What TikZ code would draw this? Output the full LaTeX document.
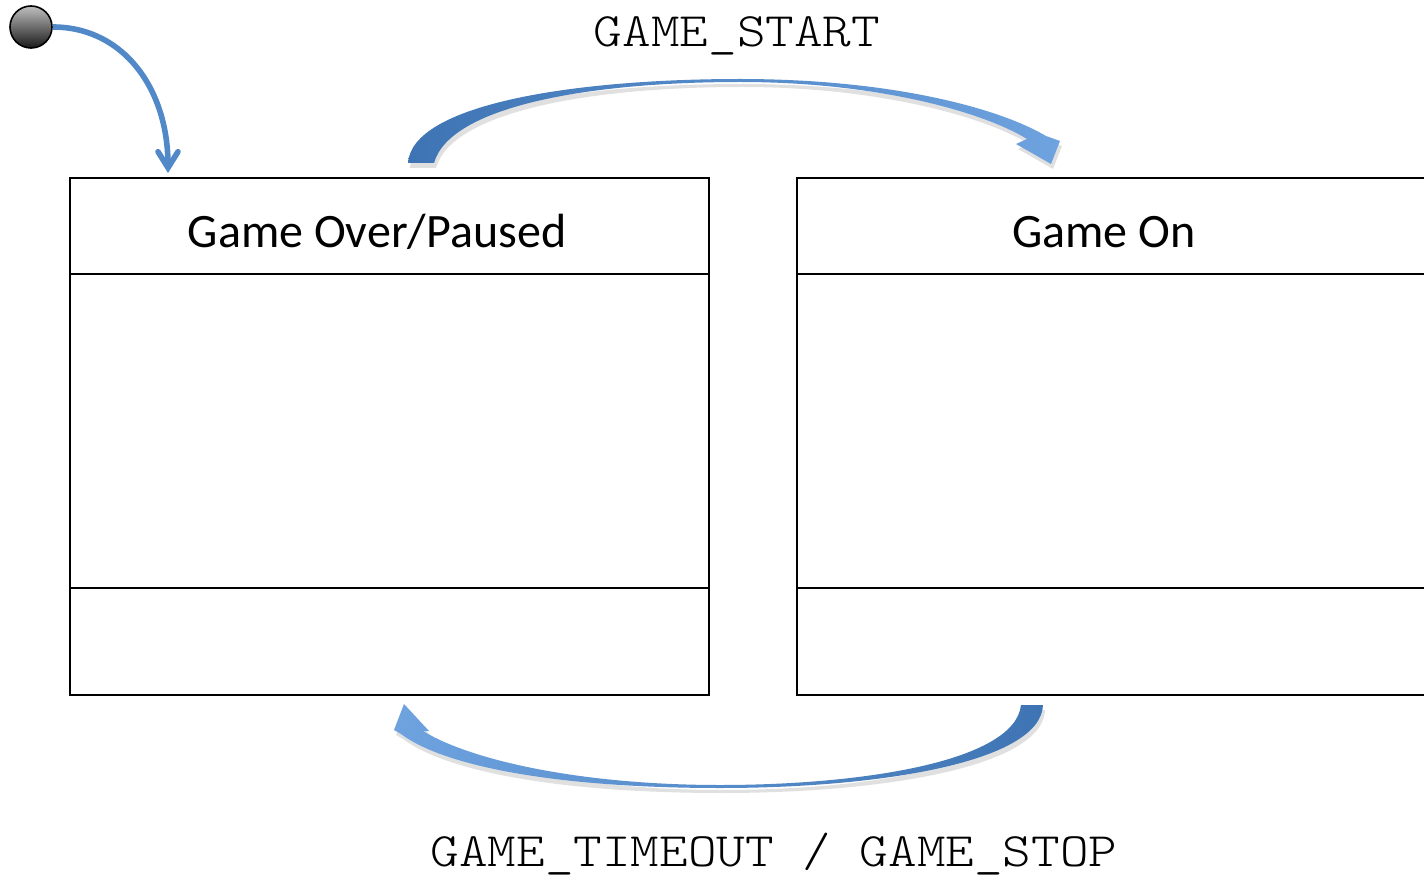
\documentclass[tikz,border=0pt]{standalone}
\usepackage{fontspec}
\setmainfont{Carlito}
\newfontfamily\monofont[FakeStretch=1.135]{Latin Modern Mono Light}
\usetikzlibrary{arrows.meta,calc}
\definecolor{arrowblue}{HTML}{5189C8}
\definecolor{arrowdark}{HTML}{3F74B4}
\definecolor{arrowlight}{HTML}{6EA3E0}
\begin{document}
\begin{tikzpicture}[x=0.5pt,y=-0.5pt,
  statebox/.style={draw=black, line width=1pt, rectangle, inner sep=0pt},
  divider/.style={draw=black, line width=1pt},
  titletext/.style={font=\fontsize{24}{28}\selectfont, anchor=base, inner sep=0pt},
  eventtext/.style={font=\monofont\fontsize{24}{28}\selectfont, anchor=base, inner sep=0pt},
  initstate/.style={circle, minimum size=21pt, inner sep=0pt, draw=black, line width=0.8pt, top color=black!25, bottom color=black!90},
  initarrow/.style={draw=arrowblue, line width=2.8pt, -{Straight Barb[length=8pt,width=10pt,line cap=round]}},
  arrowshadow/.style={fill=black, opacity=0.12}]
\fill[white] (0,0) rectangle (1424,877);
\useasboundingbox (0,0) rectangle (1424,877);
\clip (0,0) rectangle (1424,877);

\def\toparrow{(408,163) .. controls (412,104) and (575,79) .. (740,79) .. controls (885,79) and (995,106) .. (1046,136) -- (1060,141) -- (1051,164) -- (1016,144) -- (1027,139) .. controls (985,113) and (880,82) .. (740,82) .. controls (590,82) and (450,106) .. (434,163) -- cycle}
\def\botarrow{(1043,705) .. controls (1041,762) and (880,788) .. (720,788) .. controls (560,788) and (445,767) .. (401,734) -- (394,730) -- (404,704) -- (429,731) -- (423,731) .. controls (470,760) and (580,785) .. (720,785) .. controls (860,785) and (1015,762) .. (1021,705) -- cycle}

% state boxes
\node[statebox, minimum width=319.5pt, minimum height=258.5pt] (over) at (389.5,436.5) {};
\node[statebox, minimum width=336.5pt, minimum height=258.5pt] (on) at (1133.5,436.5) {};
\draw[divider] (over.west |- 0,274) -- (over.east |- 0,274);
\draw[divider] (over.west |- 0,588) -- (over.east |- 0,588);
\draw[divider] (on.west |- 0,274) -- (on.east |- 0,274);
\draw[divider] (on.west |- 0,588) -- (on.east |- 0,588);

\node[titletext] (overtitle) at (377,248) {Game Over/Paused};
\node[titletext] (ontitle) at (1104,248) {Game On};

% transitions
\fill[arrowshadow, shift={(2,5)}] \toparrow;
\shade[left color=arrowdark, right color=arrowlight] \toparrow;
\fill[arrowshadow, shift={(2,5)}] \botarrow;
\shade[left color=arrowlight, right color=arrowdark] \botarrow;

\node[eventtext] (startlbl) at (737,47) {GAME\_START};
\node[eventtext] (stoplbl) at (774,866) {GAME\_TIMEOUT / GAME\_STOP};

% initial state
\node[initstate] (init) at (31,27) {};
\draw[initarrow] (init.east) .. controls +(70,0) and +(0,-85) .. ($(over.north west)+(99,-4)$);
\end{tikzpicture}
\end{document}
